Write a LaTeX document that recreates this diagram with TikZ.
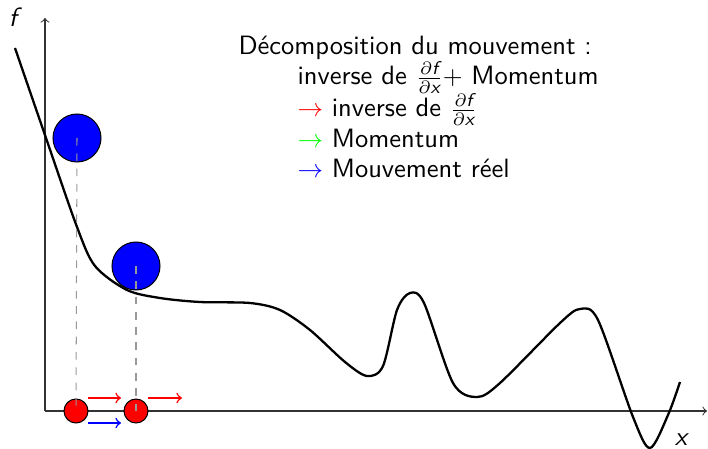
\documentclass[tikz,border=0pt]{standalone}
\usepackage{amsmath}
\usetikzlibrary{positioning}

\begin{document}
\begin{tikzpicture}[
    x=0.0138cm, y=-0.0138cm,
    every node/.style={font=\sffamily\fontsize{10.4}{12.5}\selectfont},
    boule/.style={circle, draw=black, fill=blue, inner sep=0pt, minimum size=0.662cm},
    bille/.style={circle, draw=black, fill=red, inner sep=0pt, minimum size=0.331cm},
    proj/.style={gray!80, dashed},
    ligne/.style={anchor=base west, inner sep=0pt},
]
    \useasboundingbox (0,0) rectangle (708,449);

    % Axes
    \coordinate (O) at (45,411);
    \coordinate (ymax) at (45,18);
    \coordinate (xmax) at (707,411);
    \draw[->, black!80] (O) -- (ymax);
    \draw[->, black!80] (O) -- (xmax);
    \node (labf) at (13,17) {\itshape f};
    \node (labx) at (681,440) {\itshape x};

    % Curve
    \draw[line width=0.9pt] plot[smooth, tension=0.5] coordinates {
        (15,48) (46,138) (77,227) (95,266) (127,290) (160,298) (200,302)
        (250,303) (280,310) (310,330) (345,362) (367,376) (383,366)
        (397,310) (410,293) (424,303) (453,383) (477,397) (500,383)
        (560,323) (580,309) (598,320) (633,417) (650,448) (668,415) (680,382)
    };

    % Balls and projections
    \node[boule] (boule1) at (77,138) {};
    \node[boule] (boule2) at (136,266) {};
    \node[bille] (bille1) at (76,411) {};
    \node[bille] (bille2) at (136,411) {};
    \draw[proj] (boule1.center) -- (bille1.center);
    \draw[proj] (boule2.center) -- (bille2.center);

    % Movement arrows
    \coordinate (g1) at (88,398);  \coordinate (d1) at (121,398);
    \coordinate (g2) at (148,398); \coordinate (d2) at (182,398);
    \coordinate (g3) at (88,423);  \coordinate (d3) at (121,423);
    \draw[->, red, semithick] (g1) -- (d1);
    \draw[->, red, semithick] (g2) -- (d2);
    \draw[->, blue, semithick] (g3) -- (d3);

    % Legend
    \node[ligne] (titre) at (238,55) {D\'ecomposition du mouvement :};
    \node[ligne] (leg1) at (297,85) {inverse de $\frac{\partial \textsf{\itshape f}}{\partial \textsf{\itshape x}}+$ Momentum};
    \node[ligne] (leg2) at (297,117) {{\color{red}$\rightarrow$} inverse de $\frac{\partial \textsf{\itshape f}}{\partial \textsf{\itshape x}}$};
    \node[ligne] (leg3) at (297,148) {{\color{green}$\rightarrow$} Momentum};
    \node[ligne] (leg4) at (297,177) {{\color{blue}$\rightarrow$} Mouvement r\'eel};

\end{tikzpicture}
\end{document}
